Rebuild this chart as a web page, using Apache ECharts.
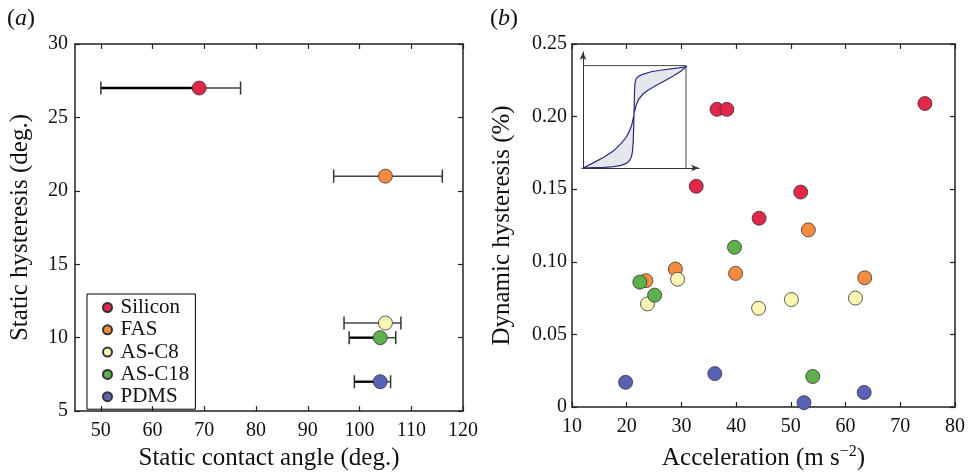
<!DOCTYPE html>
<html>
<head>
<meta charset="utf-8">
<script src="https://cdn.jsdelivr.net/npm/echarts@6/dist/echarts.min.js"></script>
<style>
  html, body { margin: 0; padding: 0; background: #fff; }
  #chart { width: 968px; height: 476px; }
</style>
</head>
<body>
<div id="chart"></div>
<script>
// ---- data (a): static contact angle vs static hysteresis ----
var materials = ['Silicon', 'FAS', 'AS-C8', 'AS-C18', 'PDMS'];
var angle = [69, 105, 105, 104, 104];
var hysteresis = [27, 21, 11, 10, 7];
var angleLow = [50, 95, 97, 98, 99];
var angleHigh = [77, 116, 108, 107, 106];
var angleTicks = [50, 60, 70, 80, 90, 100, 110, 120];

// ---- data (b): acceleration vs dynamic hysteresis, [accel, hysteresis] ----
var dynSilicon = [[36.5, 0.205], [38.3, 0.205], [74.5, 0.209], [32.7, 0.152], [51.8, 0.148], [44.2, 0.130]];
var dynFAS = [[53.2, 0.122], [28.9, 0.095], [23.5, 0.087], [39.9, 0.092], [63.5, 0.089]];
var dynASC8 = [[23.8, 0.071], [29.3, 0.088], [44.1, 0.068], [50.1, 0.074], [61.8, 0.075]];
var dynASC18 = [[22.4, 0.086], [25.1, 0.077], [39.7, 0.110], [54.0, 0.021]];
var dynPDMS = [[19.8, 0.017], [36.1, 0.023], [52.4, 0.003], [63.4, 0.010]];

// ---- inset sketch: the two branches of the loop (normalised) ----
var branchOuter = [[0, 0], [0.1, 0.003], [0.21, 0.007], [0.3, 0.013], [0.37, 0.026], [0.42, 0.045],
  [0.45, 0.07], [0.47, 0.11], [0.48, 0.16], [0.487, 0.25], [0.492, 0.4], [0.497, 0.6], [0.5, 0.75],
  [0.505, 0.83], [0.515, 0.87], [0.54, 0.895], [0.58, 0.915], [0.66, 0.94], [0.75, 0.955],
  [0.85, 0.968], [0.93, 0.978], [1, 0.99]];
var branchInner = [[0, 0], [0.1, 0.05], [0.21, 0.11], [0.3, 0.17], [0.37, 0.24], [0.42, 0.3],
  [0.45, 0.36], [0.47, 0.41], [0.48, 0.45], [0.49, 0.5], [0.5, 0.55], [0.515, 0.61], [0.54, 0.67],
  [0.58, 0.72], [0.63, 0.76], [0.7, 0.8], [0.79, 0.85], [0.88, 0.9], [0.95, 0.945], [1, 0.99]];
var insetBox = [[0, 1], [1, 1], [1, 0]];

var colors = ['#E1284B', '#F68C40', '#FBF6B4', '#5DB04C', '#5A62B5'];
var errThick = [true, false, false, true, true];

var serif = "'Liberation Serif', 'Times New Roman', serif";
var ink = '#111';

var chart = echarts.init(document.getElementById('chart'));

function frameAxis(extra) {
  var base = {
    axisLine: { show: true, onZero: false, lineStyle: { color: '#222', width: 1.5 } },
    axisTick: { show: true, inside: true, length: 5, lineStyle: { color: '#222', width: 1.2 } },
    axisLabel: { show: false },
    splitLine: { show: false }
  };
  return Object.assign(base, extra);
}

var labelStyle = { show: true, color: ink, fontFamily: serif, fontSize: 20 };
var nameStyle = { color: ink, fontFamily: serif, fontSize: 25 };

var errData = angle.map(function (a, i) {
  return [a, hysteresis[i], angleLow[i], angleHigh[i]];
});

function renderErr(params, api) {
  var y = api.value(1);
  var c = api.coord([api.value(0), y]);
  var lo = api.coord([api.value(2), y]);
  var hi = api.coord([api.value(3), y]);
  var thick = errThick[params.dataIndex];
  var cap = 6.5;
  return {
    type: 'group',
    children: [
      { type: 'line', shape: { x1: lo[0], y1: c[1], x2: c[0], y2: c[1] },
        style: { stroke: thick ? '#000' : '#444', lineWidth: thick ? 2.4 : 1.5 } },
      { type: 'line', shape: { x1: c[0], y1: c[1], x2: hi[0], y2: c[1] },
        style: { stroke: '#444', lineWidth: 1.5 } },
      { type: 'line', shape: { x1: lo[0], y1: c[1] - cap, x2: lo[0], y2: c[1] + cap },
        style: { stroke: '#333', lineWidth: 1.5 } },
      { type: 'line', shape: { x1: hi[0], y1: c[1] - cap, x2: hi[0], y2: c[1] + cap },
        style: { stroke: '#333', lineWidth: 1.5 } }
    ]
  };
}

function renderLoop(params, api) {
  var pts = branchOuter.concat(branchInner.slice().reverse()).map(function (p) {
    return api.coord(p);
  });
  return {
    type: 'polygon',
    shape: { points: pts },
    style: { fill: '#E6E6EE', stroke: '#2B2D7C', lineWidth: 1.2 }
  };
}

var dynSets = [dynSilicon, dynFAS, dynASC8, dynASC18, dynPDMS];

var series = [
  {
    type: 'custom', name: 'err', xAxisIndex: 0, yAxisIndex: 0,
    renderItem: renderErr, data: errData, z: 1,
    encode: { x: [0, 2, 3], y: 1 }, silent: true
  }
];
materials.forEach(function (m, i) {
  series.push({
    type: 'scatter', name: m, xAxisIndex: 0, yAxisIndex: 0, z: 3,
    symbolSize: 14, data: [[angle[i], hysteresis[i]]],
    itemStyle: { color: colors[i], borderColor: '#333', borderWidth: 0.8, opacity: 1 }
  });
});
materials.forEach(function (m, i) {
  series.push({
    type: 'scatter', name: m, xAxisIndex: 2, yAxisIndex: 2, z: 3,
    symbolSize: 14, data: dynSets[i],
    itemStyle: { color: colors[i], borderColor: '#333', borderWidth: 0.8, opacity: 1 }
  });
});
series.push({
  type: 'custom', xAxisIndex: 4, yAxisIndex: 4, renderItem: renderLoop,
  data: [[0, 0]], silent: true, z: 2
});
series.push({
  type: 'line', xAxisIndex: 4, yAxisIndex: 4, data: insetBox, symbol: 'none',
  lineStyle: { color: '#444', width: 1 }, silent: true, z: 2
});

var option = {
  animation: false,
  backgroundColor: '#fff',
  textStyle: { fontFamily: serif, color: ink },
  grid: [
    { left: 75, top: 44, width: 388, height: 369 },
    { left: 572, top: 44, width: 383, height: 363 },
    { left: 583, top: 52, width: 116, height: 116 }
  ],
  legend: {
    data: materials,
    orient: 'vertical',
    left: 87, top: 294,
    borderColor: '#000', borderWidth: 1,
    padding: [3, 6, 2, 15],
    itemWidth: 16, itemHeight: 9, itemGap: 1.3,
    icon: 'circle',
    textStyle: { color: ink, fontFamily: serif, fontSize: 21, lineHeight: 20 }
  },
  xAxis: [
    frameAxis({
      gridIndex: 0, type: 'value', position: 'bottom', min: 45, max: 120,
      axisTick: { show: true, inside: true, length: 5, customValues: angleTicks,
        lineStyle: { color: '#222', width: 1.2 } },
      axisLabel: Object.assign({}, labelStyle, { customValues: angleTicks, margin: 10 }),
      name: 'Static contact angle (deg.)', nameLocation: 'middle', nameGap: 34,
      nameTextStyle: nameStyle
    }),
    frameAxis({
      gridIndex: 0, type: 'value', position: 'top', min: 45, max: 120,
      axisTick: { show: true, inside: true, length: 5, customValues: angleTicks,
        lineStyle: { color: '#222', width: 1.2 } }
    }),
    frameAxis({
      gridIndex: 1, type: 'value', position: 'bottom', min: 10, max: 80, interval: 10,
      axisLabel: Object.assign({}, labelStyle, { margin: 10 }),
      name: 'Acceleration (m s{sup|\u22122})', nameLocation: 'middle', nameGap: 37,
      nameTextStyle: Object.assign({}, nameStyle, {
        rich: { sup: { fontFamily: serif, fontSize: 16, color: ink, padding: [0, 0, 13, 0] } }
      })
    }),
    frameAxis({
      gridIndex: 1, type: 'value', position: 'top', min: 10, max: 80, interval: 10
    }),
    {
      gridIndex: 2, type: 'value', min: 0, max: 1.126,
      axisLine: { show: true, onZero: false, symbol: ['none', 'arrow'], symbolSize: [5, 8],
        lineStyle: { color: '#333', width: 1 } },
      axisTick: { show: false }, axisLabel: { show: false }, splitLine: { show: false }
    }
  ],
  yAxis: [
    frameAxis({
      gridIndex: 0, type: 'value', position: 'left', min: 5, max: 30, interval: 5,
      axisLabel: Object.assign({}, labelStyle, { margin: 7 }),
      name: 'Static hysteresis (deg.)', nameLocation: 'middle', nameGap: 42,
      nameRotate: 90, nameTextStyle: nameStyle
    }),
    frameAxis({
      gridIndex: 0, type: 'value', position: 'right', min: 5, max: 30, interval: 5
    }),
    frameAxis({
      gridIndex: 1, type: 'value', position: 'left', min: 0, max: 0.25, interval: 0.05,
      axisLabel: Object.assign({}, labelStyle, {
        margin: 5,
        formatter: function (v) { return v === 0 ? '0' : v.toFixed(2); }
      }),
      name: 'Dynamic hysteresis (%)', nameLocation: 'middle', nameGap: 57,
      nameRotate: 90, nameTextStyle: nameStyle
    }),
    frameAxis({
      gridIndex: 1, type: 'value', position: 'right', min: 0, max: 0.25, interval: 0.05
    }),
    {
      gridIndex: 2, type: 'value', min: 0, max: 1.133,
      axisLine: { show: true, onZero: false, symbol: ['none', 'arrow'], symbolSize: [5, 8],
        lineStyle: { color: '#333', width: 1 } },
      axisTick: { show: false }, axisLabel: { show: false }, splitLine: { show: false }
    }
  ],
  graphic: [
    {
      type: 'text', left: 7, top: 7,
      style: {
        text: '({i|a})', fill: ink, font: '24px ' + serif,
        rich: { i: { fontStyle: 'italic', fontFamily: serif, fontSize: 24, fill: ink } }
      }
    },
    {
      type: 'text', left: 490, top: 7,
      style: {
        text: '({i|b})', fill: ink, font: '24px ' + serif,
        rich: { i: { fontStyle: 'italic', fontFamily: serif, fontSize: 24, fill: ink } }
      }
    }
  ],
  series: series
};

chart.setOption(option);

window.addEventListener('resize', function () {
  chart.resize();
});
</script>
</body>
</html>
